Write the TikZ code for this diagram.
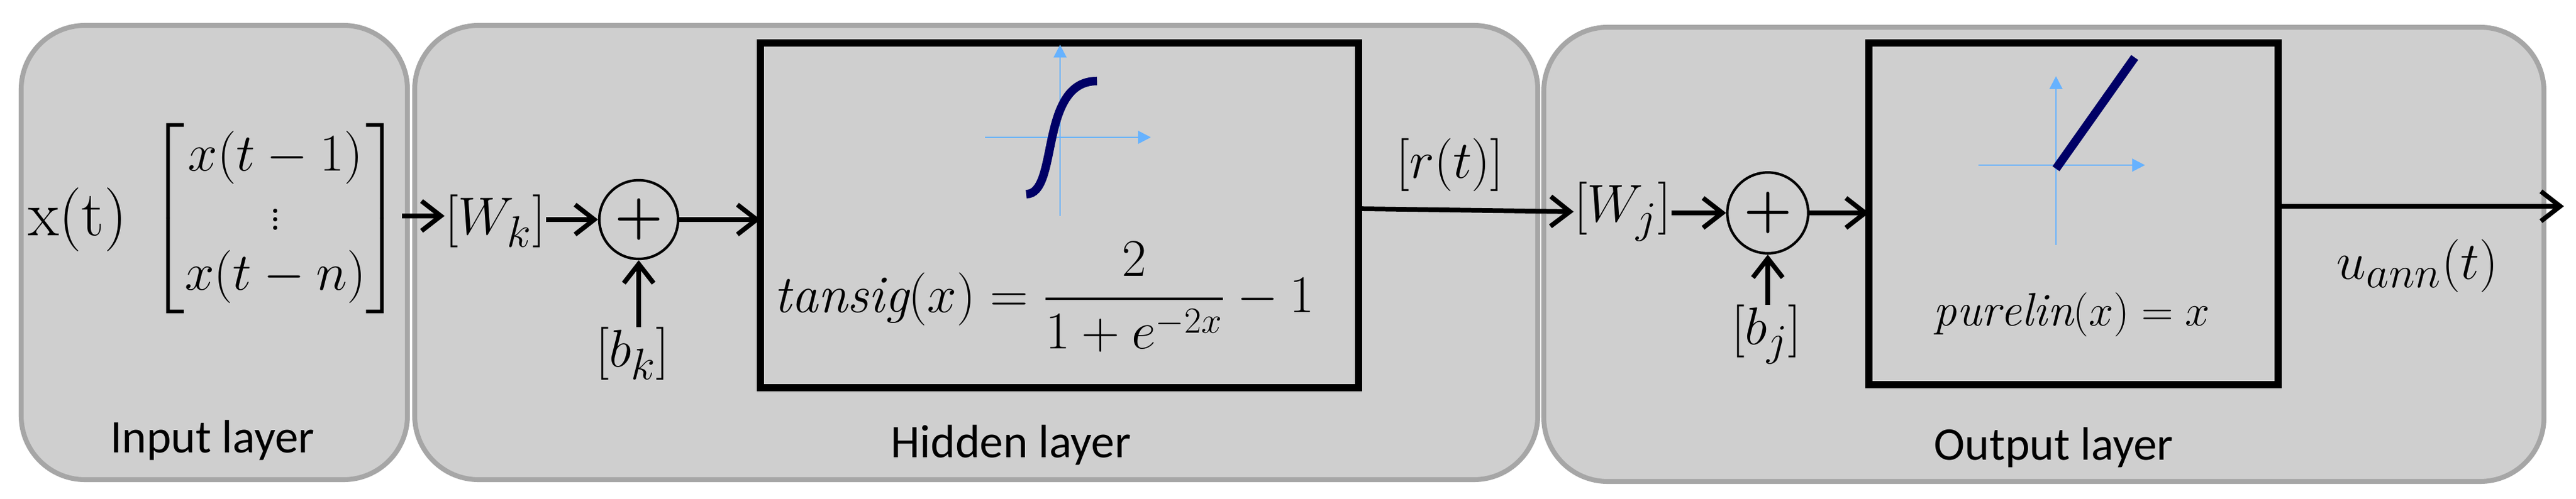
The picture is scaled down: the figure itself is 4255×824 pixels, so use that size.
\documentclass[tikz,border=0pt]{standalone}
\usepackage{fontspec}
\usepackage{amsmath}
\newfontfamily\lblfont{Carlito}
\usetikzlibrary{arrows.meta}
\begin{document}
\begin{tikzpicture}[x=0.01cm,y=-0.01cm,
  layerbox/.style={draw=black!35,fill=black!19,line width=2.3pt,rounded corners=30pt},
  funcbox/.style={draw=black,line width=3.4pt},
  conn/.style={line width=2.2pt,-{Straight Barb[length=9pt,width=14pt,line width=2.2pt]}},
  axis/.style={draw=blue!50!cyan!60!white,line width=0.8pt,-{Triangle[length=6pt,width=6pt]}},
  curve/.style={draw=blue!40!black,line width=4pt},
  mt/.style={inner sep=0pt,font=\fontsize{28}{32}\selectfont},
  lbl/.style={inner sep=0pt,font=\lblfont\fontsize{22}{24}\selectfont}]
\useasboundingbox[fill=white] (0,0) rectangle (4255,824);
\draw[layerbox] (35,42) rectangle (673,793);
\draw[layerbox] (685,42) rectangle (2540,793);
\draw[layerbox] (2550,45) rectangle (4202,796);
\draw[funcbox] (1256,71) rectangle (2244,641);
\draw[funcbox] (3087,71) rectangle (3763,636);
% sigmoid plot
\draw[axis] (1627,227) -- (1901,227);
\draw[axis] (1751,357) -- (1751,74);
\draw[curve] (1695,321) .. controls (1750,321) and (1715,134) .. (1812,134);
% purelin plot
\draw[axis] (3268,273) -- (3543,273);
\draw[axis] (3396,405) -- (3396,126);
\draw[curve] (3396,279) -- (3526,95);
% texts
\node[mt] (xt) at (128,363) {\fontsize{30}{34}\selectfont x(t)};
\node[mt,font=\fontsize{24}{28}\selectfont] (vec) at (455,361) {$\begin{bmatrix} x(t-1)\\ \vdots \\ x(t-n)\end{bmatrix}$};
\node[mt] (wk) at (818,366) {$[W_k]$};
\node[draw,circle,line width=1.2pt,minimum size=37pt,inner sep=0pt,font=\bfseries\fontsize{26}{26}\selectfont] (s1) at (1055,363) {+};
\node[mt] (bk) at (1045,585) {$[b_k]$};
\node[mt,anchor=west,font=\fontsize{25}{30}\selectfont] (tf) at (1278,491) {$\mathit{tansig}(x) = \dfrac{2}{1+e^{-2x}}-1$};
\node[mt,font=\fontsize{31}{34}\selectfont] (rt) at (2395,273) {$[r(t)]$};
\node[mt] (wj) at (2680,350) {$[W_j]$};
\node[draw,circle,line width=1.2pt,minimum size=38pt,inner sep=0pt,font=\bfseries\fontsize{26}{26}\selectfont] (s2) at (2920,352) {+};
\node[mt] (bj) at (2918,553) {$[b_j]$};
\node[mt,font=\fontsize{22}{26}\selectfont] (pf) at (3422,520) {$\mathit{purelin}(x) = x$};
\node[mt,font=\fontsize{32}{36}\selectfont] (ua) at (3993,440) {$u_{ann}(t)$};
\node[lbl] (il) at (351,728) {Input layer};
\node[lbl] (hl) at (1670,736) {Hidden layer};
\node[lbl] (ol) at (3392,740) {Output layer};
\coordinate (tl) at (1256,363);
\coordinate (tr) at (2244,345);
\coordinate (pl) at (3087,352);
\coordinate (pr) at (3763,341);
\coordinate (oend) at (4235,341);
% connectors
\draw[conn] (vec.east |- 0,357) -- (wk.west |- 0,357);
\draw[conn] (wk.east |- s1) -- (s1.west);
\draw[conn] (s1.east) -- (tl);
\draw[conn] (bk.north -| s1) -- (s1.south);
\draw[conn] (tr) -- (wj.west |- 0,350);
\draw[conn] (wj.east |- s2) -- (s2.west);
\draw[conn] (s2.east) -- (pl);
\draw[conn] (bj.north -| s2) -- (s2.south);
\draw[conn] (pr) -- (oend);
\end{tikzpicture}
\end{document}
